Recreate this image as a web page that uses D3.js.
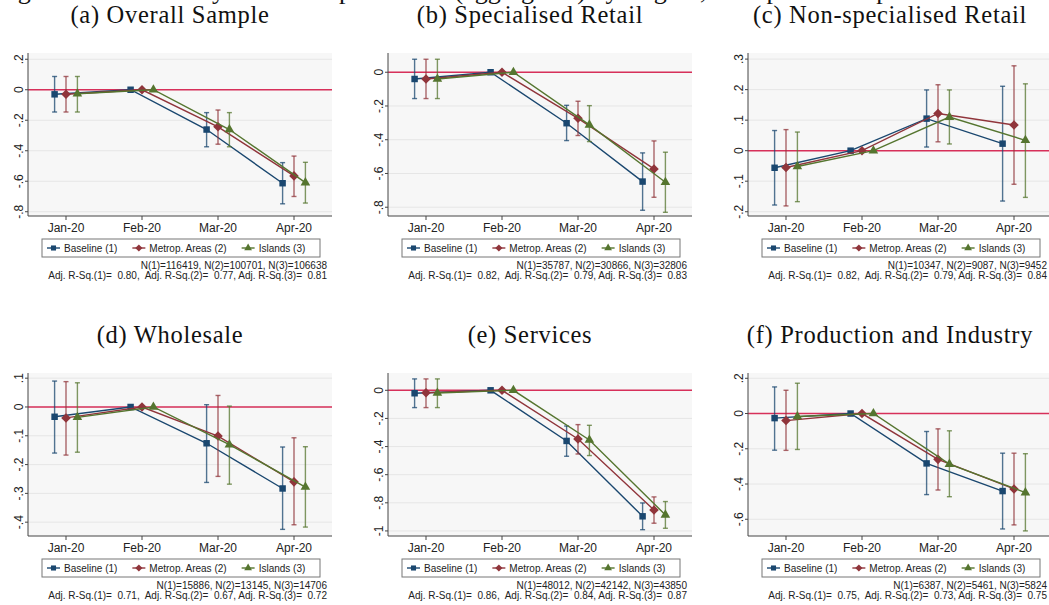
<!DOCTYPE html>
<html>
<head>
<meta charset="utf-8">
<title>Monthly estimates by sector</title>
<script src="https://d3js.org/d3.v7.min.js"></script>
<style>
  body { margin: 0; background: #fff; }
  svg { display: block; }
  .panel-title { font-family: "Liberation Serif", "Times New Roman", serif; font-size: 24.5px; letter-spacing: 0.7px; fill: #111; }
  .caption { font-family: "Liberation Serif", "Times New Roman", serif; font-size: 26px; fill: #111; }
  .tick-label { font-family: "Liberation Sans", Arial, sans-serif; font-size: 12px; fill: #222; }
  .legend-label { font-family: "Liberation Sans", Arial, sans-serif; font-size: 10px; fill: #222; }
  .note { font-family: "Liberation Sans", Arial, sans-serif; font-size: 10px; fill: #222; white-space: pre; }
</style>
</head>
<body>
<svg id="chart" width="1049" height="605"></svg>
<script>
const months = ["Jan-20", "Feb-20", "Mar-20", "Apr-20"];
const seriesNames = ["Baseline (1)", "Metrop. Areas (2)", "Islands (3)"];
const panelTitles = ["(a) Overall Sample", "(b) Specialised Retail", "(c) Non-specialised Retail",
                     "(d) Wholesale", "(e) Services", "(f) Production and Industry"];

// per series, per month: [coefficient, upper CI, lower CI]
const overallSample = [
  [[-0.030, 0.087, -0.146], [0, 0, 0], [-0.261, -0.150, -0.374], [-0.613, -0.478, -0.748]],
  [[-0.030, 0.087, -0.146], [0, 0, 0], [-0.243, -0.133, -0.357], [-0.565, -0.435, -0.700]],
  [[-0.026, 0.087, -0.146], [0, 0, 0], [-0.261, -0.150, -0.374], [-0.609, -0.476, -0.743]]
];
const specialisedRetail = [
  [[-0.040, 0.077, -0.156], [0, 0, 0], [-0.302, -0.196, -0.405], [-0.648, -0.478, -0.818]],
  [[-0.040, 0.077, -0.156], [0, 0, 0], [-0.273, -0.172, -0.375], [-0.573, -0.407, -0.741]],
  [[-0.040, 0.077, -0.156], [0, 0, 0], [-0.312, -0.198, -0.411], [-0.652, -0.474, -0.830]]
];
const nonSpecialisedRetail = [
  [[-0.056, 0.066, -0.178], [0, 0, 0], [0.105, 0.199, 0.012], [0.023, 0.211, -0.165]],
  [[-0.055, 0.069, -0.181], [0, 0, 0], [0.122, 0.216, 0.029], [0.084, 0.278, -0.110]],
  [[-0.052, 0.061, -0.167], [0, 0, 0], [0.110, 0.199, 0.022], [0.034, 0.219, -0.153]]
];
const wholesale = [
  [[-0.034, 0.090, -0.160], [0, 0, 0], [-0.126, 0.008, -0.262], [-0.283, -0.139, -0.425]],
  [[-0.038, 0.088, -0.167], [0, 0, 0], [-0.101, 0.040, -0.241], [-0.260, -0.107, -0.409]],
  [[-0.036, 0.084, -0.157], [0, 0, 0], [-0.131, 0.003, -0.268], [-0.278, -0.138, -0.417]]
];
const services = [
  [[-0.021, 0.081, -0.123], [0, 0, 0], [-0.360, -0.254, -0.469], [-0.896, -0.801, -0.991]],
  [[-0.017, 0.081, -0.123], [0, 0, 0], [-0.346, -0.244, -0.453], [-0.851, -0.758, -0.945]],
  [[-0.019, 0.081, -0.123], [0, 0, 0], [-0.353, -0.249, -0.464], [-0.886, -0.791, -0.981]]
];
const production = [
  [[-0.026, 0.151, -0.208], [0, 0, 0], [-0.283, -0.102, -0.460], [-0.440, -0.225, -0.655]],
  [[-0.040, 0.132, -0.209], [0, 0, 0], [-0.260, -0.087, -0.434], [-0.428, -0.225, -0.632]],
  [[-0.017, 0.172, -0.204], [0, 0, 0], [-0.287, -0.098, -0.472], [-0.449, -0.228, -0.666]]
];

const yTicksA = [-0.8, -0.6, -0.4, -0.2, 0, 0.2];
const yTicksB = [-0.8, -0.6, -0.4, -0.2, 0];
const yTicksC = [-0.2, -0.1, 0, 0.1, 0.2, 0.3];
const yTicksD = [-0.4, -0.3, -0.2, -0.1, 0, 0.1];
const yTicksE = [-1, -0.8, -0.6, -0.4, -0.2, 0];
const yTicksF = [-0.6, -0.4, -0.2, 0, 0.2];

const yDomainA = [-0.828, 0.241];
const yDomainB = [-0.852, 0.114];
const yDomainC = [-0.214, 0.320];
const yDomainD = [-0.448, 0.118];
const yDomainE = [-1.036, 0.123];
const yDomainF = [-0.695, 0.230];

const nObs = [[116419, 100701, 106638], [35787, 30866, 32806], [10347, 9087, 9452],
              [15886, 13145, 14706], [48012, 42142, 43850], [6387, 5461, 5824]];
const adjR2 = [[0.80, 0.77, 0.81], [0.82, 0.79, 0.83], [0.82, 0.79, 0.84],
               [0.71, 0.67, 0.72], [0.86, 0.84, 0.87], [0.75, 0.73, 0.75]];

const colors = ["#1a476f", "#90353b", "#55752f"];
const zeroColor = "#d7305a";

const panels = [
  { est: overallSample, ticks: yTicksA, domain: yDomainA },
  { est: specialisedRetail, ticks: yTicksB, domain: yDomainB },
  { est: nonSpecialisedRetail, ticks: yTicksC, domain: yDomainC },
  { est: wholesale, ticks: yTicksD, domain: yDomainD },
  { est: services, ticks: yTicksE, domain: yDomainE },
  { est: production, ticks: yTicksF, domain: yDomainF }
];

const svg = d3.select("#chart");

// figure caption, cut off by the top edge (only descenders show)
svg.append("text")
  .attr("class", "caption")
  .attr("x", -4)
  .attr("y", -1)
  .text("Figure 4: Event Study Estimates per Month (aggregated) by Region, Group and Sample");

const fmtTick = v => String(+v.toFixed(2)).replace(/^(-?)0\./, "$1.");
const fmtR2 = v => v.toFixed(2);

// marker shapes: square, diamond, triangle
const diamond = {
  draw(ctx, size) {
    const r = Math.sqrt(size / 2);
    ctx.moveTo(0, -r); ctx.lineTo(r, 0); ctx.lineTo(0, r); ctx.lineTo(-r, 0); ctx.closePath();
  }
};
const shapes = [d3.symbol(d3.symbolSquare, 42), d3.symbol(diamond, 46), d3.symbol(d3.symbolTriangle, 40)];
const offsets = [-0.15, 0, 0.15];

panels.forEach((p, i) => {
  const col = i % 3, row = Math.floor(i / 3);
  const x0 = col * 360;
  const left = x0 + 28, right = x0 + 332;
  const top = row ? 373 : 53, bottom = row ? 536 : 216;

  const g = svg.append("g");

  g.append("text")
    .attr("class", "panel-title")
    .attr("x", x0 + 170)
    .attr("y", row ? 343 : 23)
    .attr("text-anchor", "middle")
    .text(panelTitles[i]);

  const x = d3.scaleLinear().domain([0.5, 4.5]).range([left, right]);
  const y = d3.scaleLinear().domain(p.domain).range([bottom, top]);

  g.append("rect")
    .attr("x", left).attr("y", top)
    .attr("width", right - left).attr("height", bottom - top)
    .attr("fill", "#f7f7f7");

  // grid lines
  g.selectAll(".grid").data(p.ticks).enter().append("line")
    .attr("x1", left).attr("x2", right)
    .attr("y1", d => y(d)).attr("y2", d => y(d))
    .attr("stroke", "#e6e6e6").attr("stroke-width", 1);

  // zero reference line
  g.append("line")
    .attr("x1", left).attr("x2", right)
    .attr("y1", y(0)).attr("y2", y(0))
    .attr("stroke", zeroColor).attr("stroke-width", 1.4);

  // axes
  g.append("line").attr("x1", left).attr("x2", left).attr("y1", top).attr("y2", bottom)
    .attr("stroke", "#444").attr("stroke-width", 1);
  g.append("line").attr("x1", left).attr("x2", right).attr("y1", bottom).attr("y2", bottom)
    .attr("stroke", "#444").attr("stroke-width", 1);

  p.ticks.forEach(t => {
    g.append("line").attr("x1", left - 3).attr("x2", left).attr("y1", y(t)).attr("y2", y(t))
      .attr("stroke", "#444");
    g.append("text")
      .attr("class", "tick-label")
      .attr("transform", `translate(${left - 5},${y(t)}) rotate(-90)`)
      .attr("text-anchor", "middle")
      .text(fmtTick(t));
  });

  months.forEach((m, k) => {
    g.append("line").attr("x1", x(k + 1)).attr("x2", x(k + 1)).attr("y1", bottom).attr("y2", bottom + 4)
      .attr("stroke", "#444");
    g.append("text")
      .attr("class", "tick-label")
      .attr("x", x(k + 1)).attr("y", bottom + 16)
      .attr("text-anchor", "middle")
      .text(m);
  });

  // series
  p.est.forEach((series, s) => {
    const pts = series.map((d, k) => ({ x: x(k + 1 + offsets[s]), c: y(d[0]), hi: y(d[1]), lo: y(d[2]) }));

    pts.forEach(d => {
      if (Math.abs(d.hi - d.lo) < 0.5) return;
      g.append("line").attr("x1", d.x).attr("x2", d.x).attr("y1", d.hi).attr("y2", d.lo)
        .attr("stroke", colors[s]).attr("stroke-width", 1.4).attr("stroke-opacity", 0.75);
      [d.hi, d.lo].forEach(v => {
        g.append("line").attr("x1", d.x - 2.5).attr("x2", d.x + 2.5).attr("y1", v).attr("y2", v)
          .attr("stroke", colors[s]).attr("stroke-width", 1.4).attr("stroke-opacity", 0.75);
      });
    });

    g.append("path")
      .datum(pts)
      .attr("d", d3.line().x(d => d.x).y(d => d.c))
      .attr("fill", "none")
      .attr("stroke", colors[s])
      .attr("stroke-width", 1.4);

    g.selectAll(null).data(pts).enter().append("path")
      .attr("transform", d => `translate(${d.x},${d.c})`)
      .attr("d", shapes[s])
      .attr("fill", colors[s]);
  });

  // legend
  const lg = g.append("g");
  const ly = bottom + 32;
  let cx = x0 + 47;
  seriesNames.forEach((name, s) => {
    lg.append("line").attr("x1", cx).attr("x2", cx + 13).attr("y1", ly).attr("y2", ly)
      .attr("stroke", colors[s]).attr("stroke-width", 1.4);
    lg.append("path").attr("transform", `translate(${cx + 6.5},${ly})`)
      .attr("d", d3.symbol(shapes[s].type(), 26)).attr("fill", colors[s]);
    const t = lg.append("text").attr("class", "legend-label")
      .attr("x", cx + 17).attr("y", ly + 3.5).text(name);
    cx += 17 + t.node().getComputedTextLength() + 15;
  });
  lg.insert("rect", ":first-child")
    .attr("x", x0 + 42).attr("y", bottom + 23)
    .attr("width", Math.max(278, cx - 11 - (x0 + 42))).attr("height", 18)
    .attr("fill", "#fff").attr("stroke", "#777").attr("stroke-width", 1);

  // notes
  const n = nObs[i], r = adjR2[i];
  g.append("text").attr("class", "note")
    .attr("x", x0 + 327).attr("y", bottom + 53).attr("text-anchor", "end")
    .text(`N(1)=${n[0]}, N(2)=${n[1]}, N(3)=${n[2]}`);
  g.append("text").attr("class", "note")
    .attr("x", x0 + 327).attr("y", bottom + 63).attr("text-anchor", "end")
    .text(`Adj. R-Sq.(1)=  ${fmtR2(r[0])},  Adj. R-Sq.(2)=  ${fmtR2(r[1])}, Adj. R-Sq.(3)=  ${fmtR2(r[2])}`);
});
</script>
</body>
</html>
